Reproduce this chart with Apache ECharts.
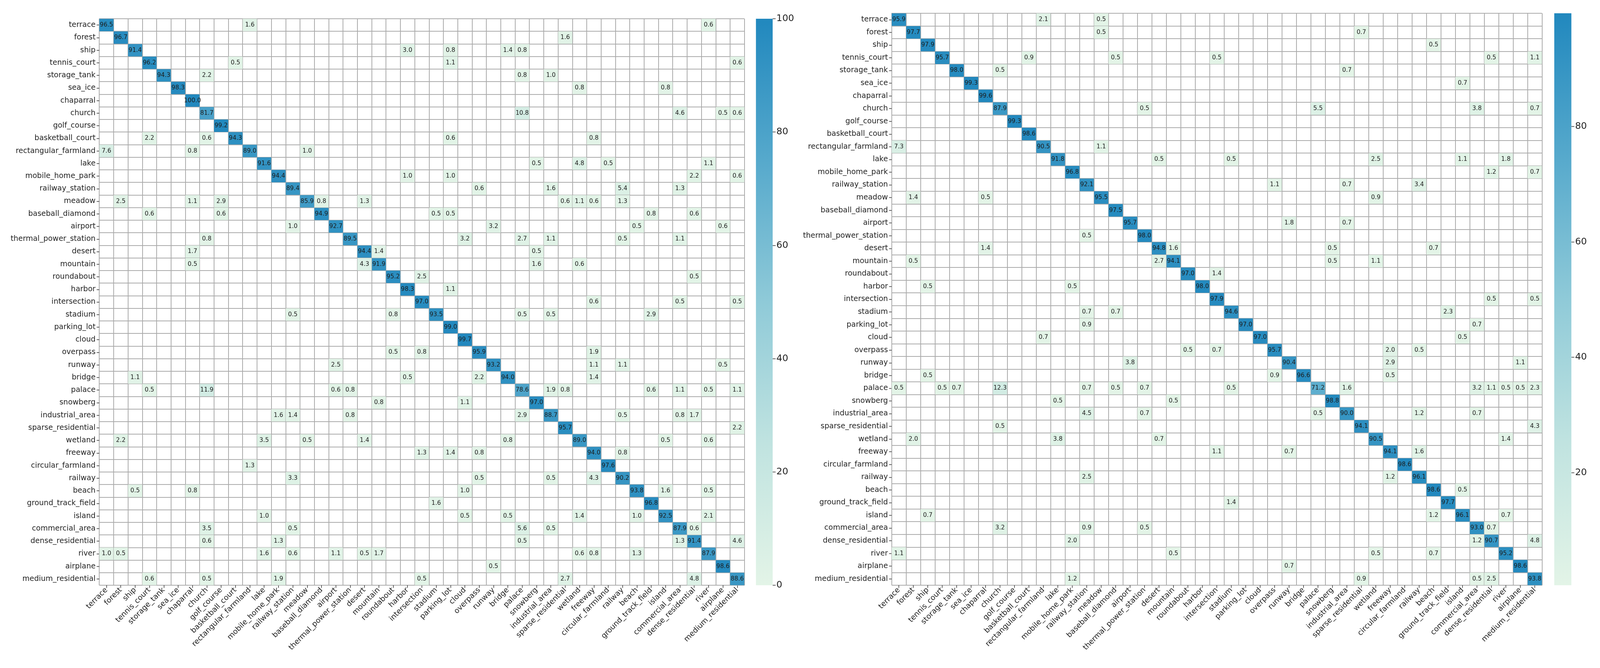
<!DOCTYPE html>
<html>
<head>
<meta charset="utf-8">
<script src="https://cdn.jsdelivr.net/npm/echarts@6/dist/echarts.min.js"></script>
<style>html,body{margin:0;padding:0;background:#fff;overflow:hidden}#c{width:100vw;height:100vh}</style>
</head>
<body>
<div id="c"></div>
<script>
const categories = ['terrace','forest','ship','tennis_court','storage_tank','sea_ice','chaparral','church','golf_course','basketball_court','rectangular_farmland','lake','mobile_home_park','railway_station','meadow','baseball_diamond','airport','thermal_power_station','desert','mountain','roundabout','harbor','intersection','stadium','parking_lot','cloud','overpass','runway','bridge','palace','snowberg','industrial_area','sparse_residential','wetland','freeway','circular_farmland','railway','beach','ground_track_field','island','commercial_area','dense_residential','river','airplane','medium_residential'];

const leftDiag = [96.5,96.7,91.4,96.2,94.3,98.3,100.0,81.7,99.2,94.3,89.0,91.6,94.4,89.4,85.9,94.9,92.7,89.5,94.4,91.9,95.2,98.3,97.0,93.5,99.0,99.7,95.9,93.2,94.0,78.6,97.0,88.7,95.7,89.0,94.0,97.6,90.2,93.8,96.8,92.5,87.9,91.4,87.9,98.6,88.6];

// [row, col, value]
const leftOff = [
[0,10,1.6],[0,42,0.6],
[1,32,1.6],
[2,21,3.0],[2,24,0.8],[2,28,1.4],[2,29,0.8],
[3,9,0.5],[3,24,1.1],[3,44,0.6],
[4,7,2.2],[4,29,0.8],[4,31,1.0],
[5,33,0.8],[5,39,0.8],
[7,29,10.8],[7,40,4.6],[7,43,0.5],[7,44,0.6],
[9,3,2.2],[9,7,0.6],[9,24,0.6],[9,34,0.8],
[10,0,7.6],[10,6,0.8],[10,14,1.0],
[11,30,0.5],[11,33,4.8],[11,35,0.5],[11,42,1.1],
[12,21,1.0],[12,24,1.0],[12,41,2.2],[12,44,0.6],
[13,26,0.6],[13,31,1.6],[13,36,5.4],[13,40,1.3],
[14,1,2.5],[14,6,1.1],[14,8,2.9],[14,15,0.8],[14,18,1.3],[14,32,0.6],[14,33,1.1],[14,34,0.6],[14,36,1.3],
[15,3,0.6],[15,8,0.6],[15,23,0.5],[15,24,0.5],[15,38,0.8],[15,41,0.6],
[16,13,1.0],[16,27,3.2],[16,37,0.5],[16,43,0.6],
[17,7,0.8],[17,25,3.2],[17,29,2.7],[17,31,1.1],[17,36,0.5],[17,40,1.1],
[18,6,1.7],[18,19,1.4],[18,30,0.5],
[19,6,0.5],[19,18,4.3],[19,30,1.6],[19,33,0.6],
[20,22,2.5],[20,41,0.5],
[21,24,1.1],
[22,34,0.6],[22,40,0.5],[22,44,0.5],
[23,13,0.5],[23,20,0.8],[23,29,0.5],[23,31,0.5],[23,38,2.9],
[26,20,0.5],[26,22,0.8],[26,34,1.9],
[27,16,2.5],[27,34,1.1],[27,36,1.1],[27,43,0.5],
[28,2,1.1],[28,21,0.5],[28,26,2.2],[28,34,1.4],
[29,3,0.5],[29,7,11.9],[29,16,0.6],[29,17,0.8],[29,31,1.9],[29,32,0.8],[29,38,0.6],[29,40,1.1],[29,42,0.5],[29,44,1.1],
[30,19,0.8],[30,25,1.1],
[31,12,1.6],[31,13,1.4],[31,17,0.8],[31,29,2.9],[31,36,0.5],[31,40,0.8],[31,41,1.7],
[32,44,2.2],
[33,1,2.2],[33,11,3.5],[33,14,0.5],[33,18,1.4],[33,28,0.8],[33,39,0.5],[33,42,0.6],
[34,22,1.3],[34,24,1.4],[34,26,0.8],[34,36,0.8],
[35,10,1.3],
[36,13,3.3],[36,26,0.5],[36,31,0.5],[36,34,4.3],
[37,2,0.5],[37,6,0.8],[37,25,1.0],[37,39,1.6],[37,42,0.5],
[38,23,1.6],
[39,11,1.0],[39,25,0.5],[39,28,0.5],[39,33,1.4],[39,37,1.0],[39,42,2.1],
[40,7,3.5],[40,13,0.5],[40,29,5.6],[40,31,0.5],[40,41,0.6],
[41,7,0.6],[41,12,1.3],[41,29,0.5],[41,40,1.3],[41,44,4.6],
[42,0,1.0],[42,1,0.5],[42,11,1.6],[42,13,0.6],[42,16,1.1],[42,18,0.5],[42,19,1.7],[42,33,0.6],[42,34,0.8],[42,37,1.3],
[43,27,0.5],
[44,3,0.6],[44,7,0.5],[44,12,1.9],[44,22,0.5],[44,32,2.7],[44,41,4.8]
];

const rightDiag = [95.9,97.7,97.9,95.7,98.0,99.3,99.6,87.9,99.3,98.6,90.5,91.8,96.8,92.1,95.5,97.5,95.7,98.0,94.8,94.1,97.0,98.0,97.9,94.6,97.0,97.0,95.7,90.4,96.6,71.2,98.8,90.0,94.1,90.5,94.1,98.6,96.1,98.6,97.7,96.1,93.0,90.7,95.2,98.6,93.8];

const rightOff = [
[0,10,2.1],[0,14,0.5],
[1,14,0.5],[1,32,0.7],
[2,37,0.5],
[3,9,0.9],[3,15,0.5],[3,22,0.5],[3,41,0.5],[3,44,1.1],
[4,7,0.5],[4,31,0.7],
[5,39,0.7],
[7,17,0.5],[7,29,5.5],[7,40,3.8],[7,44,0.7],
[10,0,7.3],[10,14,1.1],
[11,18,0.5],[11,23,0.5],[11,33,2.5],[11,39,1.1],[11,42,1.8],
[12,41,1.2],[12,44,0.7],
[13,26,1.1],[13,31,0.7],[13,36,3.4],
[14,1,1.4],[14,6,0.5],[14,33,0.9],
[16,27,1.8],[16,31,0.7],
[17,13,0.5],
[18,6,1.4],[18,19,1.6],[18,30,0.5],[18,37,0.7],
[19,1,0.5],[19,18,2.7],[19,30,0.5],[19,33,1.1],
[20,22,1.4],
[21,2,0.5],[21,12,0.5],
[22,41,0.5],[22,44,0.5],
[23,13,0.7],[23,15,0.7],[23,38,2.3],
[24,13,0.9],[24,40,0.7],
[25,10,0.7],[25,39,0.5],
[26,20,0.5],[26,22,0.7],[26,34,2.0],[26,36,0.5],
[27,16,3.8],[27,34,2.9],[27,43,1.1],
[28,2,0.5],[28,26,0.9],[28,34,0.5],
[29,0,0.5],[29,3,0.5],[29,4,0.7],[29,7,12.3],[29,13,0.7],[29,15,0.5],[29,17,0.7],[29,23,0.5],[29,31,1.6],[29,40,3.2],[29,41,1.1],[29,42,0.5],[29,43,0.5],[29,44,2.3],
[30,11,0.5],[30,19,0.5],
[31,13,4.5],[31,17,0.7],[31,29,0.5],[31,36,1.2],[31,40,0.7],
[32,7,0.5],[32,44,4.3],
[33,1,2.0],[33,11,3.8],[33,18,0.7],[33,42,1.4],
[34,22,1.1],[34,27,0.7],[34,36,1.6],
[36,13,2.5],[36,34,1.2],
[37,39,0.5],
[38,23,1.4],
[39,2,0.7],[39,37,1.2],[39,42,0.7],
[40,7,3.2],[40,13,0.9],[40,17,0.5],[40,41,0.7],
[41,12,2.0],[41,40,1.2],[41,44,4.8],
[42,0,1.1],[42,19,0.5],[42,33,0.5],[42,37,0.7],
[43,27,0.7],
[44,12,1.2],[44,32,0.9],[44,40,0.5],[44,41,2.5]
];

const leftRange = [0, 100];
const rightRange = [0.5, 99.6];
const leftBarTicks = [0, 20, 40, 60, 80, 100];
const rightBarTicks = [20, 40, 60, 80];

const palette = ['#e3f4e7', '#c0e3e0', '#8fcad8', '#56a9cc', '#2188be'];

function buildCells(diag, off) {
  const out = [];
  diag.forEach((v, i) => out.push([i, i, v]));
  off.forEach(([r, c, v]) => out.push([c, r, v]));
  return out;
}

const FONT = 'DejaVu Sans';
const el = document.getElementById('c');
const W = el.clientWidth || window.innerWidth;
const H = el.clientHeight || window.innerHeight;
const sx = W / 4303, sy = H / 1711, s = Math.min(sx, sy);
const chart = echarts.init(el, null, {renderer: 'canvas'});

function matX(gi) {
  return {
    type: 'category', gridIndex: gi, data: categories, position: 'bottom',
    axisLine: {show: false},
    axisTick: {show: true, alignWithLabel: true, length: 7 * s, lineStyle: {color: '#333', width: 1.5}},
    axisLabel: {interval: 0, rotate: 45, fontSize: 20 * s, color: '#222', fontFamily: FONT, margin: 10 * s},
    splitLine: {show: true, interval: 0, lineStyle: {color: '#ababab', width: 2}}
  };
}
function matY(gi) {
  return {
    type: 'category', gridIndex: gi, data: categories, inverse: true,
    axisLine: {show: false},
    axisTick: {show: true, alignWithLabel: true, length: 7 * s, lineStyle: {color: '#333', width: 1.5}},
    axisLabel: {interval: 0, fontSize: 20 * s, color: '#222', fontFamily: FONT, margin: 10 * s},
    splitLine: {show: true, interval: 0, lineStyle: {color: '#ababab', width: 2}}
  };
}
function barX(gi) {
  return {type: 'category', gridIndex: gi, data: [''], show: false, boundaryGap: true};
}
function barY(gi, range, ticks) {
  return {
    type: 'value', gridIndex: gi, position: 'right', min: range[0], max: range[1],
    axisLine: {show: false},
    splitLine: {show: false},
    axisTick: {show: true, length: 8 * s, lineStyle: {color: '#333', width: 1.5}, customValues: ticks},
    axisLabel: {fontSize: 25 * s, color: '#222', fontFamily: FONT, margin: 10 * s, customValues: ticks}
  };
}
function gradient() {
  const stops = palette.slice().reverse().map((c, i) => ({offset: i / (palette.length - 1), color: c}));
  return new echarts.graphic.LinearGradient(0, 0, 0, 1, stops);
}
function heat(xi, data) {
  return {
    type: 'heatmap', xAxisIndex: xi, yAxisIndex: xi, data: data,
    label: {show: true, fontSize: 16 * s, color: '#1b1b1b', fontFamily: FONT,
      formatter: p => p.value[2].toFixed(1)},
    itemStyle: {borderColor: '#ababab', borderWidth: 1},
    emphasis: {disabled: true}
  };
}
function g(l, t, w, h) {
  return {left: l * sx, top: t * sy, width: w * sx, height: h * sy};
}

chart.setOption({
  animation: false,
  backgroundColor: '#ffffff',
  grid: [
    g(267, 48, 1735, 1451),
    g(2398, 34, 1749, 1465),
    g(2033, 48, 45, 1451),
    g(4180, 34, 46, 1465)
  ],
  xAxis: [matX(0), matX(1), barX(2), barX(3)],
  yAxis: [matY(0), matY(1), barY(2, leftRange, leftBarTicks), barY(3, rightRange, rightBarTicks)],
  visualMap: [
    {type: 'continuous', show: false, min: leftRange[0], max: leftRange[1], seriesIndex: 0, dimension: 2, inRange: {color: palette}},
    {type: 'continuous', show: false, min: rightRange[0], max: rightRange[1], seriesIndex: 1, dimension: 2, inRange: {color: palette}}
  ],
  series: [
    heat(0, buildCells(leftDiag, leftOff)),
    heat(1, buildCells(rightDiag, rightOff)),
    {type: 'bar', xAxisIndex: 2, yAxisIndex: 2, data: [leftRange[1]], barWidth: '100%', silent: true,
      itemStyle: {color: gradient()}},
    {type: 'bar', xAxisIndex: 3, yAxisIndex: 3, data: [rightRange[1]], barWidth: '100%', silent: true,
      itemStyle: {color: gradient()}}
  ]
});
</script>
</body>
</html>
